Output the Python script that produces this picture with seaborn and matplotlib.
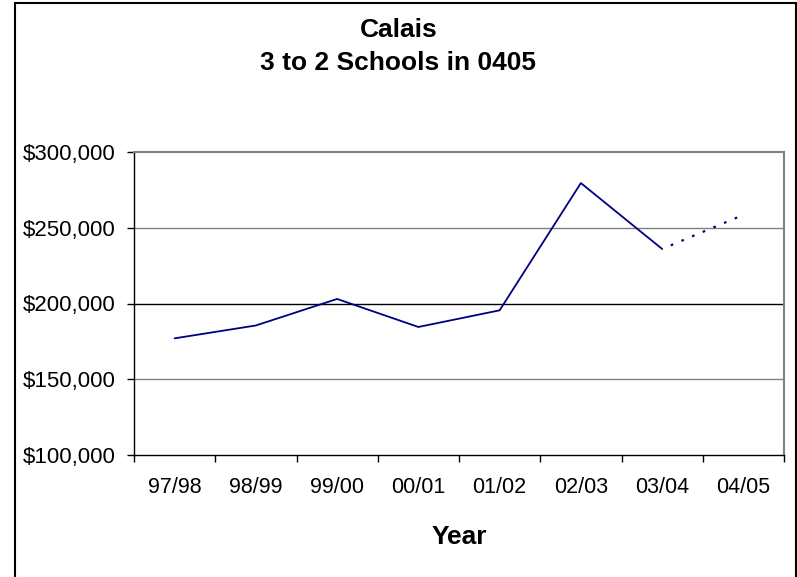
import matplotlib
matplotlib.use("Agg")
import matplotlib.pyplot as plt
import seaborn as sns
import pandas as pd
from matplotlib.patches import Rectangle
from matplotlib.ticker import FuncFormatter, MultipleLocator

sns.set_theme(style="white")
plt.rcParams["font.family"] = ["Liberation Sans", "DejaVu Sans"]
plt.rcParams["text.color"] = "black"

years = ["97/98", "98/99", "99/00", "00/01", "01/02", "02/03", "03/04", "04/05"]
actual = [177000, 185500, 203000, 184500, 195500, 279500, 236000]
projected = [236000, 258500]

NAVY = "#000080"

df_act = pd.DataFrame({"x": range(len(actual)), "value": actual})
df_proj = pd.DataFrame({"x": range(len(actual) - 1, len(years)), "value": projected})

fig = plt.figure(figsize=(7.97, 5.77), dpi=100)
ax = fig.add_axes([134 / 797, 1 - 455 / 577, 650 / 797, 303 / 577])

sns.lineplot(data=df_act, x="x", y="value", ax=ax, color=NAVY, linewidth=1.3)
sns.lineplot(data=df_proj, x="x", y="value", ax=ax, color=NAVY, linewidth=1.6,
             linestyle=(1, (1.2, 4)))

ax.set_xlim(-0.5, len(years) - 0.5)
ax.set_ylim(100000, 300000)
ax.yaxis.set_major_locator(MultipleLocator(50000))
ax.yaxis.set_major_formatter(FuncFormatter(lambda v, p: f"${v:,.0f}"))

# gridlines: Excel style, 200k drawn darker
for v, c in [(150000, "#808080"), (200000, "black"), (250000, "#808080")]:
    ax.axhline(v, color=c, linewidth=1, zorder=0)

ax.set_xticks(range(len(years)))
ax.set_xticklabels(years)
ax.set_xticks([i - 0.5 for i in range(len(years) + 1)], minor=True)
ax.tick_params(axis="x", which="major", length=0, pad=16, labelsize=15.5, labelcolor="black")
ax.tick_params(axis="x", which="minor", length=5, width=1, color="black", bottom=True)
ax.tick_params(axis="y", which="major", length=5, width=1, color="black", left=True,
               pad=8, labelsize=16, labelcolor="black")

for side in ["left", "bottom"]:
    ax.spines[side].set_color("black")
    ax.spines[side].set_linewidth(1)
for side in ["top", "right"]:
    ax.spines[side].set_color("#808080")
    ax.spines[side].set_linewidth(1.5)

ax.set_xlabel("Year", fontsize=19, fontweight="bold", color="black", va="baseline")
ax.xaxis.set_label_coords(0.5, (455 - 543.5) / 303)
ax.set_ylabel("")

# two-line chart title, centred on the figure
fig.text(0.5, 1 - 37 / 577, "Calais", ha="center", va="baseline",
         fontsize=19, fontweight="bold", color="black")
fig.text(0.5, 1 - 70 / 577, "3 to 2 Schools in 0405", ha="center", va="baseline",
         fontsize=19, fontweight="bold", color="black")

# outer chart border
fig.patches.append(Rectangle((15 / 797, -0.05), 781 / 797, 1.05 - 2.5 / 577,
                             transform=fig.transFigure, fill=False,
                             edgecolor="black", linewidth=1.5))

fig.savefig("out.png", dpi=100)
